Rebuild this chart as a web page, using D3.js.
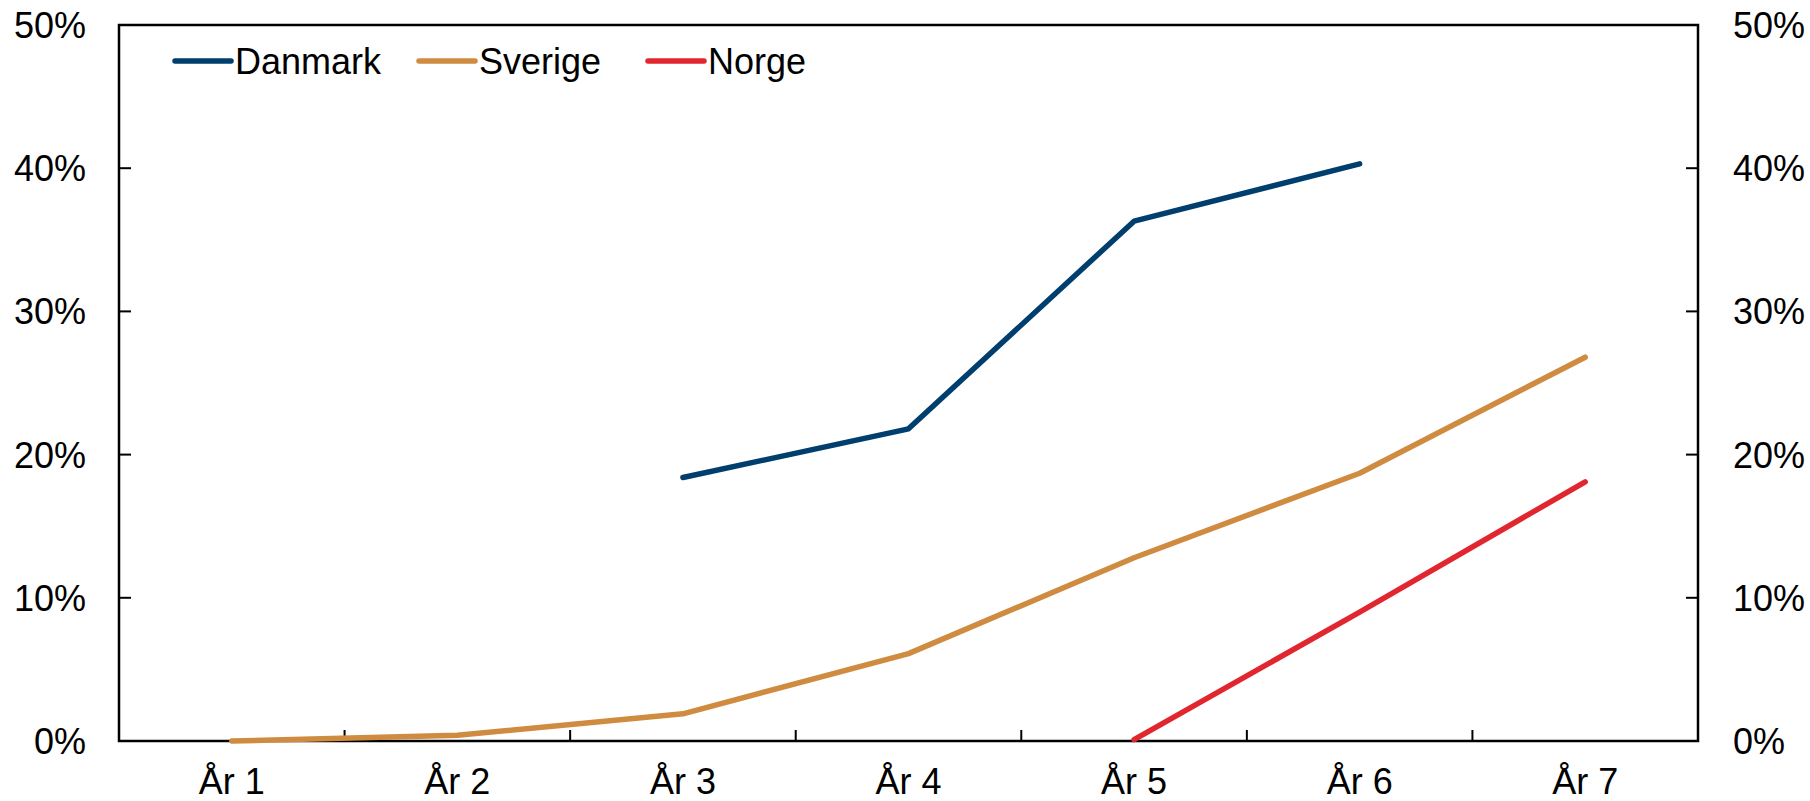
<!DOCTYPE html>
<html>
<head>
<meta charset="utf-8">
<script src="https://cdn.jsdelivr.net/npm/d3@7"></script>
<style>
  body { margin: 0; background: #fff; }
  text { font-family: Arial, "Liberation Sans", sans-serif; fill: #000; }
</style>
</head>
<body>
<svg id="chart" width="1810" height="801"></svg>
<script>
const years = ["År 1", "År 2", "År 3", "År 4", "År 5", "År 6", "År 7"];
const yTicks = [0, 10, 20, 30, 40, 50];

// null = no value for that year
const danmark = [null, null, 18.4, 21.8, 36.3, 40.3, null];
const sverige = [0.0, 0.4, 1.9, 6.1, 12.8, 18.7, 26.8];
const norge = [null, null, null, null, 0.1, 9.0, 18.1];

const series = [
  { name: "Danmark", color: "#003e6e", values: danmark },
  { name: "Sverige", color: "#cf8c40", values: sverige },
  { name: "Norge", color: "#e2262f", values: norge }
];

const margin = { left: 119, right: 112, top: 25, bottom: 60 };
const width = 1810, height = 801;
const plotW = width - margin.left - margin.right;
const plotH = height - margin.top - margin.bottom;
const fontSize = "36px";

const svg = d3.select("#chart");
const g = svg.append("g").attr("transform", `translate(${margin.left},${margin.top})`);

const x = d3.scaleBand().domain(years).range([0, plotW]).padding(0);
const y = d3.scaleLinear().domain([0, 50]).range([plotH, 0]);

// Frame
g.append("rect")
  .attr("width", plotW)
  .attr("height", plotH)
  .attr("fill", "none")
  .attr("stroke", "#000")
  .attr("stroke-width", 2.5);

// Y ticks (inside) left and right
const yTickLen = 12;
g.selectAll(".ytl")
  .data(yTicks)
  .enter().append("line")
  .attr("x1", 0).attr("x2", yTickLen)
  .attr("y1", d => y(d)).attr("y2", d => y(d))
  .attr("stroke", "#000").attr("stroke-width", 2);
g.selectAll(".ytr")
  .data(yTicks)
  .enter().append("line")
  .attr("x1", plotW - yTickLen).attr("x2", plotW)
  .attr("y1", d => y(d)).attr("y2", d => y(d))
  .attr("stroke", "#000").attr("stroke-width", 2);

// Y labels
g.selectAll(".yl")
  .data(yTicks)
  .enter().append("text")
  .attr("x", -33)
  .attr("y", d => y(d))
  .attr("dy", "0.36em")
  .attr("text-anchor", "end")
  .attr("font-size", fontSize)
  .text(d => d + "%");
g.selectAll(".yr")
  .data(yTicks)
  .enter().append("text")
  .attr("x", plotW + 35)
  .attr("y", d => y(d))
  .attr("dy", "0.36em")
  .attr("text-anchor", "start")
  .attr("font-size", fontSize)
  .text(d => d + "%");

// X ticks between categories
g.selectAll(".xt")
  .data(years.slice(1))
  .enter().append("line")
  .attr("x1", d => x(d)).attr("x2", d => x(d))
  .attr("y1", plotH).attr("y2", plotH - 11)
  .attr("stroke", "#000").attr("stroke-width", 2);

// X labels
g.selectAll(".xl")
  .data(years)
  .enter().append("text")
  .attr("x", d => x(d) + x.bandwidth() / 2)
  .attr("y", plotH + 53)
  .attr("text-anchor", "middle")
  .attr("font-size", fontSize)
  .text(d => d);

// Lines
const line = d3.line()
  .defined(d => d.v !== null)
  .x(d => x(d.year) + x.bandwidth() / 2)
  .y(d => y(d.v));

series.forEach(s => {
  g.append("path")
    .datum(years.map((yr, i) => ({ year: yr, v: s.values[i] })))
    .attr("d", line)
    .attr("fill", "none")
    .attr("stroke", s.color)
    .attr("stroke-width", 5.5)
    .attr("stroke-linecap", "round")
    .attr("stroke-linejoin", "round");
});

// Legend
const legendX = [175, 419, 648];
const legend = svg.append("g");
series.forEach((s, i) => {
  legend.append("line")
    .attr("x1", legendX[i]).attr("x2", legendX[i] + 56)
    .attr("y1", 61).attr("y2", 61)
    .attr("stroke", s.color)
    .attr("stroke-width", 5.5)
    .attr("stroke-linecap", "round");
  legend.append("text")
    .attr("x", legendX[i] + 60)
    .attr("y", 61)
    .attr("dy", "0.35em")
    .attr("font-size", fontSize)
    .text(s.name);
});
</script>
</body>
</html>
